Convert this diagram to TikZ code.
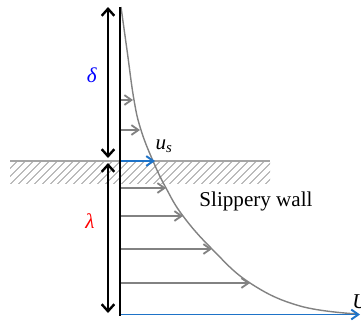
\documentclass[tikz,border=0pt]{standalone}
\usepackage{fontspec}
\setmainfont{Liberation Serif}
\usetikzlibrary{arrows.meta,patterns.meta}
\pgfdeclarelayer{edgelayer}
\pgfdeclarelayer{nodelayer}
\pgfsetlayers{edgelayer,nodelayer,main}
\definecolor{flowblue}{RGB}{30,115,200}
\definecolor{wallgray}{RGB}{165,165,165}
\definecolor{curvegray}{RGB}{130,130,130}
\tikzstyle{dimension}=[draw=black, line width=1.7pt, {Straight Barb[length=5pt,width=9pt]}-{Straight Barb[length=5pt,width=9pt]}]
\tikzstyle{velocity}=[draw=curvegray, line width=1.3pt, -{Straight Barb[length=5pt,width=7pt]}]
\tikzstyle{slip}=[velocity, draw=flowblue, line width=1.4pt]
\tikzstyle{tag}=[inner sep=0pt, font=\fontsize{15}{17}\selectfont]

\begin{document}
\begin{tikzpicture}[x=0.025cm, y=-0.025cm]
			\useasboundingbox (0,0) rectangle (361,322);
			\begin{pgfonlayer}{edgelayer}
			% slippery wall
			\fill [pattern={Lines[angle=45,distance=4pt,line width=0.9pt]}, pattern color=wallgray!75] (10,162) rectangle (270,183);
			\draw [wallgray, line width=1.4pt] (10,161) -- (270,161);
			% velocity profile
			\draw [curvegray, line width=1pt] plot [smooth, tension=0.7] coordinates {(121,7) (127,50) (134,100) (141,130) (153,161) (166,188) (183,216) (212,249) (250,283) (300,306) (358,314)};
			\end{pgfonlayer}
			\begin{pgfonlayer}{nodelayer}
			\coordinate (0) at (120,7);
			\coordinate (1) at (120,316);
			\coordinate (2) at (108,7);
			\coordinate (3) at (108,158);
			\coordinate (4) at (108,163);
			\coordinate (5) at (108,313);
			\coordinate (6) at (121,100);
			\coordinate (7) at (133,100);
			\coordinate (8) at (121,130);
			\coordinate (9) at (140,130);
			\coordinate (10) at (121,161);
			\coordinate (11) at (155,161);
			\coordinate (12) at (121,188);
			\coordinate (13) at (166,188);
			\coordinate (14) at (121,216);
			\coordinate (15) at (183,216);
			\coordinate (16) at (121,249);
			\coordinate (17) at (212,249);
			\coordinate (18) at (121,283);
			\coordinate (19) at (250,283);
			\coordinate (20) at (121,314.5);
			\coordinate (21) at (360,314.5);
			\node [style=tag, text=blue] (22) at (92,75) {\textit{δ}};
			\node [style=tag, text=red] (23) at (90,221) {\textit{λ}};
			\node [style=tag] (24) at (164,146) {\textit{u}\textsubscript{\textit{s}}};
			\node [style=tag] (25) at (256,201) {Slippery wall};
			\node [style=tag, anchor=west] (26) at (352,302) {\textit{U}};
			\end{pgfonlayer}
			\draw [black, line width=1.7pt] (0) to (1);
			\draw [style=dimension] (2) to (3);
			\draw [style=dimension] (4) to (5);
			\draw [style=velocity] (6) to (7);
			\draw [style=velocity] (8) to (9);
			\draw [style=slip] (10) to (11);
			\draw [style=velocity] (12) to (13);
			\draw [style=velocity] (14) to (15);
			\draw [style=velocity] (16) to (17);
			\draw [style=velocity] (18) to (19);
			\draw [style=slip] (20) to (21);
\end{tikzpicture}
\end{document}
